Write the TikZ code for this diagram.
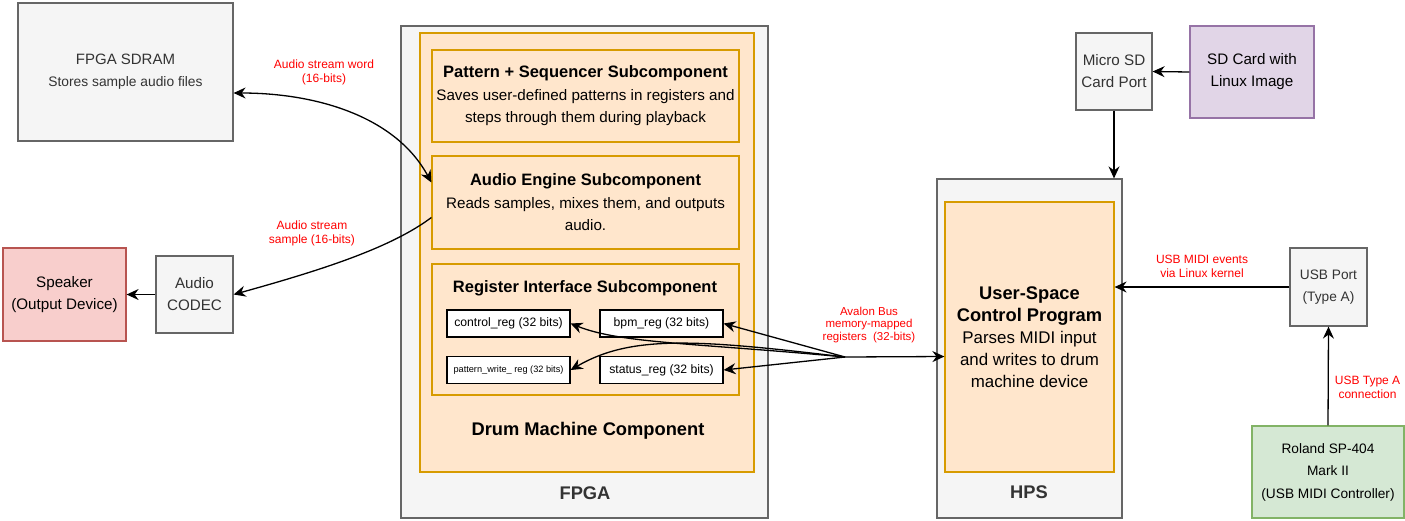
\documentclass[tikz,border=0pt]{standalone}
\usepackage{fontspec}
\setmainfont{Liberation Sans}
\usetikzlibrary{arrows.meta,positioning,calc}
\definecolor{grayfill}{HTML}{F5F5F5}
\definecolor{graydraw}{HTML}{666666}
\definecolor{orfill}{HTML}{FFE6CC}
\definecolor{ordraw}{HTML}{D79B00}
\definecolor{spkfill}{HTML}{F8CECC}
\definecolor{spkdraw}{HTML}{B85450}
\definecolor{sdfill}{HTML}{E1D5E7}
\definecolor{sddraw}{HTML}{9673A6}
\definecolor{ctlfill}{HTML}{D5E8D4}
\definecolor{ctldraw}{HTML}{82B366}
\definecolor{lblred}{HTML}{FF0000}
\newcommand{\bodyfont}{\fontsize{15.2}{22}\selectfont}
\newcommand{\hdfont}{\fontsize{16.5}{22}\selectfont\bfseries}
\newcommand{\bigfont}{\fontsize{18.3}{22}\selectfont\bfseries}
\tikzset{
  blk/.style={draw=graydraw,fill=grayfill,line width=1.2pt,inner sep=0pt,align=center,text=black!80,font=\bodyfont},
  sub/.style={draw=ordraw,fill=orfill,line width=1.2pt,inner sep=0pt,align=center,font=\bodyfont},
  reg/.style={draw=black,fill=white,line width=1.2pt,inner sep=0pt,minimum width=123pt,minimum height=27pt,font=\fontsize{12.2}{14}\selectfont},
  lbl/.style={text=lblred,align=center,inner sep=1pt,font=\fontsize{12}{14}\selectfont},
  conn/.style={line width=1.3pt,-{Stealth[length=12pt,width=11pt,inset=4pt]}},
}

\begin{document}
\begin{tikzpicture}[x=1pt,y=-1pt]
\useasboundingbox (0,0) rectangle (1405,520);

% left side
\node[blk,minimum width=215pt,minimum height=138pt] (sdram) at (125.5,72)
  {{\fontsize{15}{22}\selectfont FPGA SDRAM}\\{\fontsize{13.8}{22}\selectfont Stores sample audio files}};
\node[blk,draw=spkdraw,fill=spkfill,text=black,minimum width=123pt,minimum height=93pt] (spk) at (64.5,294.5) {Speaker\\(Output Device)};
\node[blk,minimum width=77pt,minimum height=77pt] (codec) at (194.5,294.5) {Audio\\CODEC};

% FPGA
\node[blk,minimum width=367pt,minimum height=492pt] (fpga) at (584.5,272) {};
\node[font=\bigfont,text=black!80] (fpgalbl) at (585,493) {FPGA};
\node[sub,minimum width=334pt,minimum height=439pt] (drum) at (587,252.5) {};
\node[font=\bigfont] (drumlbl) at (588,431) {Drum Machine Component};
\node[sub,minimum width=307pt,minimum height=92pt] (pattern) at (585.5,96)
  {{\hdfont Pattern + Sequencer Subcomponent}\\[1pt] Saves user-defined patterns in registers and\\steps through them during playback};
\node[sub,minimum width=307pt,minimum height=93pt] (engine) at (585.5,202.5)
  {{\hdfont Audio Engine Subcomponent}\\[1pt] Reads samples, mixes them, and outputs\\audio.};
\node[sub,minimum width=307pt,minimum height=131pt] (regif) at (585.5,329.5) {};
\node[font=\hdfont] (regiflbl) at (585,288) {Register Interface Subcomponent};

\node[reg] (control) at (508.5,323.5) {control\_reg (32 bits)};
\node[reg] (bpm) at (661.5,323.5) {bpm\_reg (32 bits)};
\node[reg,font=\fontsize{9.2}{11}\selectfont] (patw) at (508.5,370) {pattern\_write\_ reg (32 bits)};
\node[reg] (status) at (661.5,370) {status\_reg (32 bits)};

% HPS
\node[blk,minimum width=185pt,minimum height=339pt] (hps) at (1029.5,348.5) {};
\node[font=\bigfont,text=black!80] (hpslbl) at (1029,492) {HPS};
\node[sub,minimum width=169pt,minimum height=270pt,font=\fontsize{16.9}{22}\selectfont] (prog) at (1029.5,337)
  {{\bigfont User-Space}\\{\bigfont Control Program}\\Parses MIDI input\\and writes to drum\\machine device};

% right side
\node[blk,minimum width=76pt,minimum height=77pt] (sdport) at (1114,71.5) {Micro SD\\Card Port};
\node[blk,draw=sddraw,fill=sdfill,text=black,minimum width=124pt,minimum height=92pt] (sdcard) at (1252,72) {SD Card with\\Linux Image};
\node[blk,minimum width=77pt,minimum height=78pt,font=\fontsize{13.7}{22}\selectfont] (usb) at (1328.5,287) {USB Port\\(Type A)};
\node[blk,draw=ctldraw,fill=ctlfill,text=black,minimum width=152pt,minimum height=92pt,font=\fontsize{13.7}{22.5}\selectfont] (roland) at (1328,472)
  {Roland SP-404\\Mark II\\(USB MIDI Controller)};

% labels
\node[lbl] (wordlbl) at (324,72) {Audio stream word\\(16-bits)};
\node[lbl] (samplbl) at (312,233) {Audio stream\\sample (16-bits)};
\node[lbl,font=\fontsize{11.5}{12.5}\selectfont] (buslbl) at (869,325) {Avalon Bus\\memory-mapped\\registers\ \ (32-bits)};

% connectors
\coordinate (bus) at (845,357);
\draw[conn,{Stealth[length=12pt,width=11pt,inset=4pt]}-{Stealth[length=12pt,width=11pt,inset=4pt]}]
  ([yshift=-21pt]sdram.east) .. controls +(85,0) and +(-35,-65) .. ([yshift=20pt]engine.west);
\draw[conn] ([yshift=-15pt]engine.west) .. controls +(-40,30) and +(90,-25) .. (codec.east);
\draw[conn] (codec.west) -- (spk.east);

\draw[conn] (bus) -- ([yshift=-19.5pt]prog.west);
\draw[conn] (bus) -- (bpm.east);
\draw[conn] (bus) -- (status.east);
\draw[conn] (bus) .. controls +(-150,-14) and +(50,20) .. (control.east);
\draw[conn] (bus) .. controls +(-150,-18) and +(60,-35) .. (patw.east);

\draw[conn] (sdcard.west) -- (sdport.east);
\draw[conn] (sdport.south) -- (sdport.south |- hps.north);
\draw[conn] (usb.west) -- (usb.west -| prog.east)
  node[lbl,midway,above=8pt] (usblbl) {USB MIDI events\\via Linux kernel};
\draw[conn] (roland.north) -- (usb.south)
  node[lbl,pos=0.38,right=5pt] (typelbl) {USB Type A\\connection};
\end{tikzpicture}
\end{document}
